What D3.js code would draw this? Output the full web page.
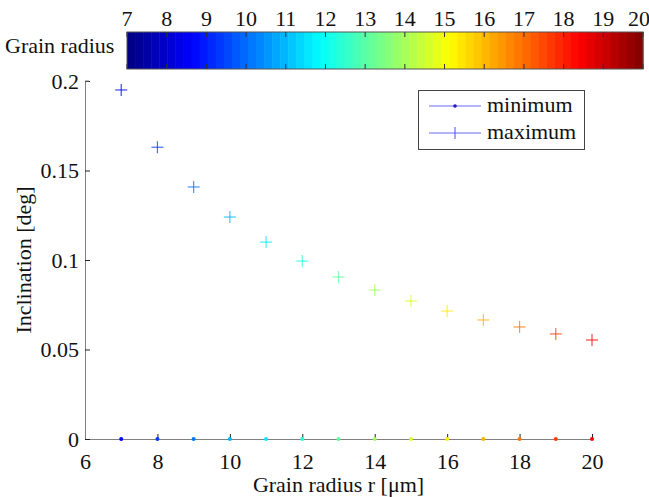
<!DOCTYPE html>
<html>
<head>
<meta charset="utf-8">
<script src="https://cdn.jsdelivr.net/npm/d3@7"></script>
<style>
  body { margin: 0; background: #fff; }
</style>
</head>
<body>
<svg width="649" height="497"></svg>
<script>
// grain radius r [um]
var radius = [7, 8, 9, 10, 11, 12, 13, 14, 15, 16, 17, 18, 19, 20];
var maxIncl = [0.195, 0.163, 0.1408, 0.124, 0.110, 0.0994, 0.0905, 0.0832, 0.0771, 0.0715, 0.0665, 0.0626, 0.0587, 0.0553];
var minIncl = [0, 0, 0, 0, 0, 0, 0, 0, 0, 0, 0, 0, 0, 0];
var xTicks = [6, 8, 10, 12, 14, 16, 18, 20];
var yTicks = [0, 0.05, 0.1, 0.15, 0.2];
var cbTicks = [7, 8, 9, 10, 11, 12, 13, 14, 15, 16, 17, 18, 19, 20];

var svg = d3.select("svg");
var fs = 22;
var font = "Liberation Serif, Times New Roman, serif";

function label(sel) {
  return sel.attr("font-family", font).style("font-family", font)
    .style("font-size", fs + "px").attr("fill", "#111");
}

// matlab jet
function jet(t) {
  var c = function(v) { return Math.max(0, Math.min(1, v)); };
  var r = c(1.5 - Math.abs(4 * t - 3)),
      g = c(1.5 - Math.abs(4 * t - 2)),
      b = c(1.5 - Math.abs(4 * t - 1));
  return d3.rgb(r * 255, g * 255, b * 255).toString();
}
// marker colours use the middle of the map
var markColor = d3.scaleLinear().domain([7, 20]).range([0.125, 0.875]);

// ---- colorbar
var cbX = d3.scaleLinear().domain([7, 20]).range([127, 643]);
var cbTop = 32, cbH = 37;
var nBands = 64;
var bands = d3.range(nBands);
svg.append("g").selectAll("rect")
  .data(bands).enter().append("rect")
  .attr("x", function(i) { return cbX(7 + 13 * i / nBands); })
  .attr("y", cbTop)
  .attr("width", function(i) { return cbX(7 + 13 * (i + 1) / nBands) - cbX(7 + 13 * i / nBands) + 0.5; })
  .attr("height", cbH)
  .attr("fill", function(i) { return jet((i + 0.5) / nBands); });
svg.append("rect")
  .attr("x", cbX(7)).attr("y", cbTop)
  .attr("width", cbX(20) - cbX(7)).attr("height", cbH)
  .attr("fill", "none").attr("stroke", "#555").attr("stroke-width", 1);

var cbAxis = svg.append("g");
cbAxis.selectAll(".tt").data(cbTicks).enter().append("line")
  .attr("x1", function(d) { return cbX(d); }).attr("x2", function(d) { return cbX(d); })
  .attr("y1", cbTop).attr("y2", cbTop + 5).attr("stroke", "#333");
cbAxis.selectAll(".tb").data(cbTicks).enter().append("line")
  .attr("x1", function(d) { return cbX(d); }).attr("x2", function(d) { return cbX(d); })
  .attr("y1", cbTop + cbH - 5).attr("y2", cbTop + cbH).attr("stroke", "#333");
label(cbAxis.selectAll("text").data(cbTicks).enter().append("text"))
  .attr("x", function(d) { return d === 20 ? cbX(d) - 4 : cbX(d); })
  .attr("y", 26)
  .attr("text-anchor", "middle")
  .text(function(d) { return d; });

label(svg.append("text"))
  .attr("x", 5).attr("y", 53)
  .text("Grain radius");

// ---- main axes
var xScale = d3.scaleLinear().domain([6, 20]).range([85, 592]),
    yScale = d3.scaleLinear().domain([0, 0.2]).range([439, 81]);

var gx = svg.append("g")
  .attr("transform", "translate(0," + yScale(0) + ")")
  .call(d3.axisTop(xScale).tickValues(xTicks).tickSize(5).tickSizeOuter(0));
gx.selectAll("text").remove();
label(gx.selectAll(".tick").append("text"))
  .attr("y", 30).attr("text-anchor", "middle")
  .text(function(d) { return d; });

var gy = svg.append("g")
  .attr("transform", "translate(" + xScale(6) + ",0)")
  .call(d3.axisRight(yScale).tickValues(yTicks).tickSize(5).tickSizeOuter(0));
gy.selectAll("text").remove();
label(gy.selectAll(".tick").append("text"))
  .attr("x", -6).attr("y", 7).attr("text-anchor", "end")
  .text(function(d) { return d; });

svg.selectAll(".domain").attr("stroke", "#808080");
svg.selectAll(".tick line").attr("stroke", "#222");
// small upper cap on the y axis, as in the original
svg.append("line")
  .attr("x1", xScale(6)).attr("x2", xScale(6) + 4)
  .attr("y1", yScale(0.2)).attr("y2", yScale(0.2))
  .attr("stroke", "#808080");

// ---- points
var pts = radius.map(function(r, i) { return { r: r, lo: minIncl[i], hi: maxIncl[i] }; });

svg.append("g").selectAll("circle")
  .data(pts).enter().append("circle")
  .attr("cx", function(d) { return xScale(d.r); })
  .attr("cy", function(d) { return yScale(d.lo); })
  .attr("r", 2)
  .attr("fill", function(d) { return jet(markColor(d.r)); });

var plus = svg.append("g").selectAll("g")
  .data(pts).enter().append("g")
  .attr("transform", function(d) { return "translate(" + xScale(d.r) + "," + yScale(d.hi) + ")"; })
  .attr("stroke", function(d) { return jet(markColor(d.r)); })
  .attr("stroke-opacity", 0.75)
  .attr("stroke-width", 1.2);
plus.append("line").attr("x1", -6).attr("x2", 6).attr("y1", 0).attr("y2", 0);
plus.append("line").attr("x1", 0).attr("x2", 0).attr("y1", -6).attr("y2", 6);

// ---- legend
var lg = svg.append("g");
lg.append("rect")
  .attr("x", 418.5).attr("y", 90.5).attr("width", 166).attr("height", 59)
  .attr("fill", "#fff").attr("stroke", "#444");
var legendItems = ["minimum", "maximum"];
var lgRow = lg.selectAll(".row").data(legendItems).enter().append("g")
  .attr("transform", function(d, i) { return "translate(0," + (106 + i * 27) + ")"; });
lgRow.append("line")
  .attr("x1", 429).attr("x2", 481).attr("y1", 0).attr("y2", 0)
  .attr("stroke", "#6b6bf0").attr("stroke-width", 1);
lgRow.filter(function(d, i) { return i === 0; }).append("circle")
  .attr("cx", 455).attr("cy", 0).attr("r", 1.8).attr("fill", "#1a1acc");
lgRow.filter(function(d, i) { return i === 1; }).append("line")
  .attr("x1", 455).attr("x2", 455).attr("y1", -6).attr("y2", 6)
  .attr("stroke", "#4a4ae8");
label(lgRow.append("text"))
  .attr("x", 487).attr("y", 6)
  .text(function(d) { return d; });

// ---- axis titles
label(svg.append("text"))
  .attr("x", (xScale(6) + xScale(20)) / 2).attr("y", 492)
  .attr("text-anchor", "middle")
  .text("Grain radius r [\u03bcm]");
label(svg.append("text"))
  .attr("transform", "translate(31," + (yScale(0.1)) + ") rotate(-90)")
  .attr("text-anchor", "middle")
  .text("Inclination [deg]");
</script>
</body>
</html>
